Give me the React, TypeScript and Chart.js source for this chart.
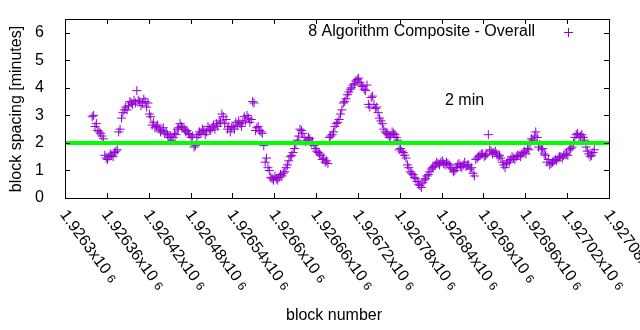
import { useEffect, useRef } from "react";
import { Chart, registerables } from "chart.js";

Chart.register(...registerables);

// ---- data ----
const BLOCK_START = 1926339;
const BLOCK_STEP = 4;
// readings on blocks BLOCK_START + i*BLOCK_STEP
const SPACING_MINUTES = [
  2.95, 2.6, 2.45, 2.35, 2.15, 1.45, 1.5, 1.55, 1.65, 1.75,
  2.5, 3.1, 3.3, 3.35, 3.45, 3.55, 3.9, 3.5, 3.45, 3.5,
  3.45, 2.95, 2.75, 2.6, 2.5, 2.45, 2.35, 2.3, 2.25, 2.2,
  2.3, 2.55, 2.6, 2.5, 2.45, 2.3, 2.25, 1.9, 2.3, 2.35,
  2.45, 2.4, 2.5, 2.55, 2.5, 2.6, 2.75, 2.95, 2.85, 2.6,
  2.55, 2.5, 2.65, 2.7, 2.75, 2.8, 2.9, 2.85, 3.45, 2.55,
  2.45, 2.35, 1.3, 1.1, 0.75, 0.65, 0.7, 0.75, 0.8, 0.95,
  1.2, 1.5, 1.65, 1.95, 2.25, 2.45, 2.2, 2.1, 2.15, 2.05,
  1.8, 1.65, 1.55, 1.45, 1.35, 2.2, 2.3, 2.6, 2.75, 3.05,
  3.45, 3.6, 3.85, 4.0, 4.15, 4.3, 4.2, 4.05, 3.9, 3.4,
  3.65, 3.4, 3.3, 2.9, 2.7, 2.4, 2.3, 2.25, 2.35, 2.2,
  1.75, 1.7, 1.55, 1.2, 0.95, 0.85, 0.7, 0.5, 0.38, 0.65,
  0.8, 0.95, 1.1, 1.2, 1.25, 1.3, 1.25, 1.3, 1.2, 1.05,
  1.0, 1.2, 1.15, 1.2, 1.15, 1.2, 1.1, 0.8, 1.45, 1.55,
  1.6, 1.55, 2.3, 1.7, 1.65, 1.6, 1.55, 1.3, 1.1, 1.35,
  1.4, 1.45, 1.5, 1.55, 1.6, 1.7, 1.8, 2.0, 2.1, 2.4,
  1.85, 1.75, 1.6, 1.3, 1.2, 1.3, 1.4, 1.45, 1.5, 1.55,
  1.6, 1.75, 1.85, 2.2, 2.35, 2.25, 2.2, 1.85, 1.6, 1.55,
  1.75,
];
// readings on the blocks in between: BLOCK_START + 2 + i*BLOCK_STEP
const SPACING_MINUTES_MID = [
  3.0, 2.7, 2.4, 2.25, 1.55, 1.4, 1.6, 1.5, 1.7, 2.4,
  2.9, 3.2, 3.2, 3.5, 3.4, 3.45, 3.55, 3.35, 3.6, 3.3,
  3.05, 2.65, 2.55, 2.65, 2.4, 2.55, 2.4, 2.2, 2.1, 2.35,
  2.5, 2.7, 2.55, 2.4, 2.35, 2.2, 1.85, 2.2, 2.4, 2.5,
  2.3, 2.6, 2.45, 2.65, 2.7, 2.8, 3.05, 2.7, 2.5, 2.4,
  2.6, 2.75, 2.8, 2.6, 2.95, 3.0, 2.75, 3.5, 2.45, 2.6,
  2.4, 1.9, 1.45, 1.0, 0.7, 0.8, 0.65, 0.85, 0.9, 1.1,
  1.35, 1.55, 1.8, 2.1, 2.5, 2.35, 2.05, 2.2, 2.0, 1.9,
  1.7, 1.6, 1.4, 1.3, 1.25, 2.25, 2.4, 2.7, 2.85, 3.2,
  3.5, 3.75, 3.95, 4.1, 4.25, 4.35, 4.1, 3.95, 4.1, 3.3,
  3.7, 3.25, 3.1, 2.8, 2.5, 2.35, 2.2, 2.4, 2.3, 2.1,
  1.8, 1.65, 1.45, 1.1, 0.9, 0.75, 0.6, 0.45, 0.55, 0.7,
  0.85, 1.05, 1.15, 1.3, 1.2, 1.35, 1.2, 1.25, 1.1, 0.95,
  1.1, 1.25, 1.1, 1.3, 1.2, 1.05, 0.9, 1.4, 1.5, 1.6,
  1.5, 1.6, 1.75, 1.6, 1.7, 1.5, 1.45, 1.2, 1.25, 1.3,
  1.5, 1.4, 1.55, 1.5, 1.65, 1.6, 1.75, 2.15, 2.25, 2.2,
  1.95, 1.8, 1.55, 1.4, 1.25, 1.35, 1.35, 1.5, 1.45, 1.6,
  1.55, 1.8, 2.0, 2.3, 2.2, 2.3, 2.1, 1.7, 1.5, 1.65,
];
const X_MIN = 1926300;
const X_MAX = 1927080;
const X_TICKS = [
  1926300, 1926360, 1926420, 1926480, 1926540, 1926600, 1926660,
  1926720, 1926780, 1926840, 1926900, 1926960, 1927020, 1927080,
];
const X_TICK_LABELS = [
  "1.9263", "1.92636", "1.92642", "1.92648", "1.92654", "1.9266", "1.92666",
  "1.92672", "1.92678", "1.92684", "1.9269", "1.92696", "1.92702", "1.92708",
];
const X_TICK_EXP = "6";
const Y_MIN = 0;
const Y_MAX = 6.5;
const Y_TICKS = [0, 1, 2, 3, 4, 5, 6];
const TARGET_MINUTES = 2;
const SERIES_LABEL = "8 Algorithm Composite - Overall";
const TARGET_LABEL = "2 min";
const X_TITLE = "block number";
const Y_TITLE = "block spacing [minutes]";

// ---- styles ----
const FONT = '"Liberation Sans", Arial, sans-serif';
const PURPLE = "#9400d3";
const GREEN = "#00ff00";

const framePlugin = {
  id: "gnuFrame",
  afterDraw(chart: any) {
    const { ctx, chartArea: a, scales } = chart;
    const xs = scales.x;
    const ys = scales.y;
    ctx.save();
    ctx.strokeStyle = "#000";
    ctx.lineWidth = 1;
    ctx.strokeRect(a.left + 0.5, a.top + 0.5, a.right - a.left, a.bottom - a.top);
    ctx.beginPath();
    const T = 5;
    X_TICKS.forEach((v) => {
      const px = Math.round(xs.getPixelForValue(v)) + 0.5;
      ctx.moveTo(px, a.bottom);
      ctx.lineTo(px, a.bottom - T);
      ctx.moveTo(px, a.top);
      ctx.lineTo(px, a.top + T);
    });
    Y_TICKS.forEach((v) => {
      const py = Math.round(ys.getPixelForValue(v)) + 0.5;
      ctx.moveTo(a.left, py);
      ctx.lineTo(a.left + T, py);
      ctx.moveTo(a.right, py);
      ctx.lineTo(a.right - T, py);
    });
    ctx.stroke();

    ctx.fillStyle = "#000";
    // y tick labels
    ctx.font = `16px ${FONT}`;
    ctx.textAlign = "right";
    ctx.textBaseline = "middle";
    Y_TICKS.forEach((v) => {
      ctx.fillText(String(v), a.left - 21, ys.getPixelForValue(v));
    });

    // x tick labels, rotated
    const ang = (54 * Math.PI) / 180;
    X_TICKS.forEach((v, i) => {
      const px = xs.getPixelForValue(v);
      ctx.save();
      ctx.translate(px - 2, a.bottom + 14);
      ctx.rotate(ang);
      ctx.textAlign = "left";
      ctx.textBaseline = "middle";
      ctx.font = `16px ${FONT}`;
      const main = X_TICK_LABELS[i] + "x10";
      ctx.fillText(main, 0, 0);
      const w = ctx.measureText(main + " ").width;
      ctx.font = `12px ${FONT}`;
      ctx.fillText(X_TICK_EXP, w, 1);
      ctx.restore();
    });

    // axis titles
    ctx.font = `16px ${FONT}`;
    ctx.textAlign = "center";
    ctx.textBaseline = "middle";
    ctx.fillText(X_TITLE, 334, 316);
    ctx.save();
    ctx.translate(17, 109);
    ctx.rotate(-Math.PI / 2);
    ctx.fillText(Y_TITLE, 0, 0);
    ctx.restore();

    // legend
    ctx.textAlign = "right";
    ctx.fillText(SERIES_LABEL, 535, 32);
    ctx.strokeStyle = PURPLE;
    ctx.lineWidth = 1;
    ctx.beginPath();
    ctx.moveTo(564, 32.5);
    ctx.lineTo(573, 32.5);
    ctx.moveTo(568.5, 28);
    ctx.lineTo(568.5, 37);
    ctx.stroke();

    // target label
    ctx.fillStyle = "#000";
    ctx.textAlign = "left";
    ctx.fillText(TARGET_LABEL, 445, 101);
    ctx.restore();
  },
};

export default function App() {
  const ref = useRef<HTMLCanvasElement | null>(null);
  useEffect(() => {
    if (!ref.current) return;
    const points = SPACING_MINUTES.map((v, i) => ({ x: BLOCK_START + i * BLOCK_STEP, y: v }));
    const mid = SPACING_MINUTES_MID.map((v, i) => ({ x: BLOCK_START + 2 + i * BLOCK_STEP, y: v }));
    const all = [...points, ...mid].sort((p, q) => p.x - q.x);
    const chart = new Chart(ref.current, {
      type: "scatter",
      data: {
        datasets: [
          {
            type: "line",
            label: TARGET_LABEL,
            data: [
              { x: X_MIN, y: TARGET_MINUTES },
              { x: X_MAX, y: TARGET_MINUTES },
            ],
            borderColor: GREEN,
            borderWidth: 4,
            pointRadius: 0,
            order: 0,
          } as any,
          {
            label: SERIES_LABEL,
            data: all,
            pointStyle: "cross",
            pointRadius: 4.5,
            pointBorderWidth: 1,
            borderColor: PURPLE,
            backgroundColor: PURPLE,
            order: 1,
          },
        ],
      },
      options: {
        responsive: false,
        animation: false,
        layout: { padding: { left: 65, right: 31, top: 19, bottom: 132 } },
        plugins: { legend: { display: false }, tooltip: { enabled: false } },
        scales: {
          x: { type: "linear", display: false, min: X_MIN, max: X_MAX },
          y: { type: "linear", display: false, min: Y_MIN, max: Y_MAX },
        },
      },
      plugins: [framePlugin],
    });
    return () => chart.destroy();
  }, []);
  return (
    <div style={{ position: "fixed", left: 0, top: 0, width: 640, height: 330, background: "#fff" }}>
      <canvas ref={ref} width={640} height={330} />
    </div>
  );
}
